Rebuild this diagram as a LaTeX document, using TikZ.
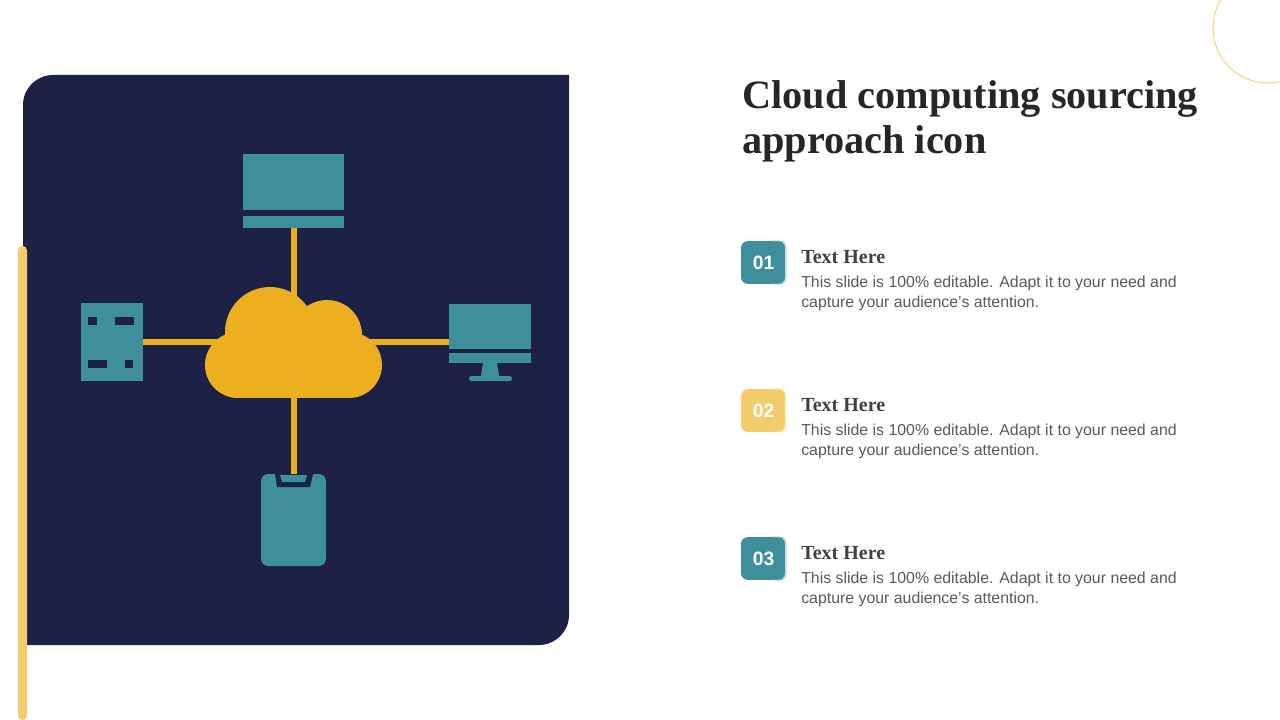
\documentclass[tikz,border=0pt]{standalone}
\usepackage{fontspec}
\setmainfont{Liberation Serif}
\setsansfont{Liberation Sans}
\usetikzlibrary{positioning}
\definecolor{navy}{HTML}{1C2145}
\definecolor{tealc}{HTML}{3F8E9B}
\definecolor{gold}{HTML}{EBAF20}
\definecolor{sand}{HTML}{F3CC6E}
\definecolor{headc}{HTML}{404040}
\definecolor{bodyc}{HTML}{595959}
\tikzset{
  device/.style={fill=tealc,inner sep=0,outer sep=0},
  hole/.style={fill=navy},
  link/.style={gold,line width=4.5pt},
  badge/.style={inner sep=0,minimum width=33pt,minimum height=32pt,rounded corners=5pt,text=white,
    font=\sffamily\bfseries\fontsize{14.5}{14.5}\selectfont},
  headtext/.style={anchor=base west,inner sep=0,text=headc,font=\bfseries\fontsize{15}{18}\selectfont},
  bodytext/.style={anchor=base west,inner sep=0,align=left,text=bodyc,
    font=\sffamily\fontsize{11.9}{14.4}\selectfont},
}
\begin{document}
\begin{tikzpicture}[x=.75pt,y=-.75pt]
\useasboundingbox (0,0) rectangle (1280,720);
% corner ring
\begin{scope}
\clip (0,0) rectangle (1280,720);
\draw[sand,line width=.7pt] (1268,28) circle (55);
\end{scope}
% panel
\fill[navy] (23,105) arc (180:270:30) -- (569,75) -- (569,615) arc (0:90:30) -- (23,645) -- cycle;
\fill[sand,rounded corners=3.3pt] (18,246) rectangle (27,720);
% devices
\node[device,minimum width=75.75pt,minimum height=42pt] (screen) at (293.5,182) {};
\node[device,minimum width=75.75pt,minimum height=9pt] (laptop) at (293.5,222) {};
\node[device,minimum width=46.5pt,minimum height=58.5pt] (server) at (112,342) {};
\node[device,minimum width=61.5pt,minimum height=33.75pt] (monitor) at (490,326.5) {};
\node[device,minimum width=61.5pt,minimum height=7.5pt] (monitorbase) at (490,358) {};
\node[device,minimum width=48.75pt,minimum height=69pt,rounded corners=5.5pt] (phone) at (293.5,520) {};
\coordinate (cloud) at (293.5,342);
% connectors
\draw[link] (laptop.south) -- (cloud);
\draw[link] (phone.north) -- (cloud);
\draw[link] (server.east) -- (cloud);
\draw[link] (monitor.west |- cloud) -- (cloud);
% cloud
\fill[gold] (270,332) circle (45) (327,335) circle (35) (238,365) circle (33) (349,365) circle (33);
\fill[gold] (238,340) rectangle (349,398);
% server holes
\foreach \hx/\hy/\hw in {88/317/9,115/317/19,88/360/19,125/360/8}
{
    \fill[hole] (\hx,\hy) rectangle ++(\hw,8);
}
% monitor stand
\fill[device] (483,363) -- (497,363) -- (499,376) -- (481,376) -- cycle;
\fill[device,rounded corners=1.8pt] (469,376) rectangle (512,381);
% phone notch
\fill[hole] (275,474) -- (313,474) -- (310,487) -- (277,487) -- cycle;
\fill[device] (280,475) -- (307,475) -- (305,482) -- (282,482) -- cycle;
% title
\node[anchor=base west,inner sep=0,align=left,text=black!85,font=\bfseries\fontsize{30.2}{33.75}\selectfont] (title) at (742,154) {Cloud computing sourcing\\approach icon};
% rows
\foreach \i/\num/\col in {0/01/tealc,1/02/sand,2/03/tealc}
{
    \node[badge,fill=\col] (badge\num) at (763,262.5+148*\i) {\kern1pt\num};
    \draw[\col!60,line width=.6pt,rounded corners=5pt] (772,241+148*\i) -- (786,241+148*\i) -- (786,284+148*\i) -- (772,284+148*\i);
    \node[headtext] (head\num) at (801,263.5+148*\i) {Text Here};
    \node[bodytext] (body\num) at (801,307+148*\i) {This slide is 100\% editable. Adapt it to your need and\\capture your audience’s attention.};
}
\end{tikzpicture}
\end{document}
